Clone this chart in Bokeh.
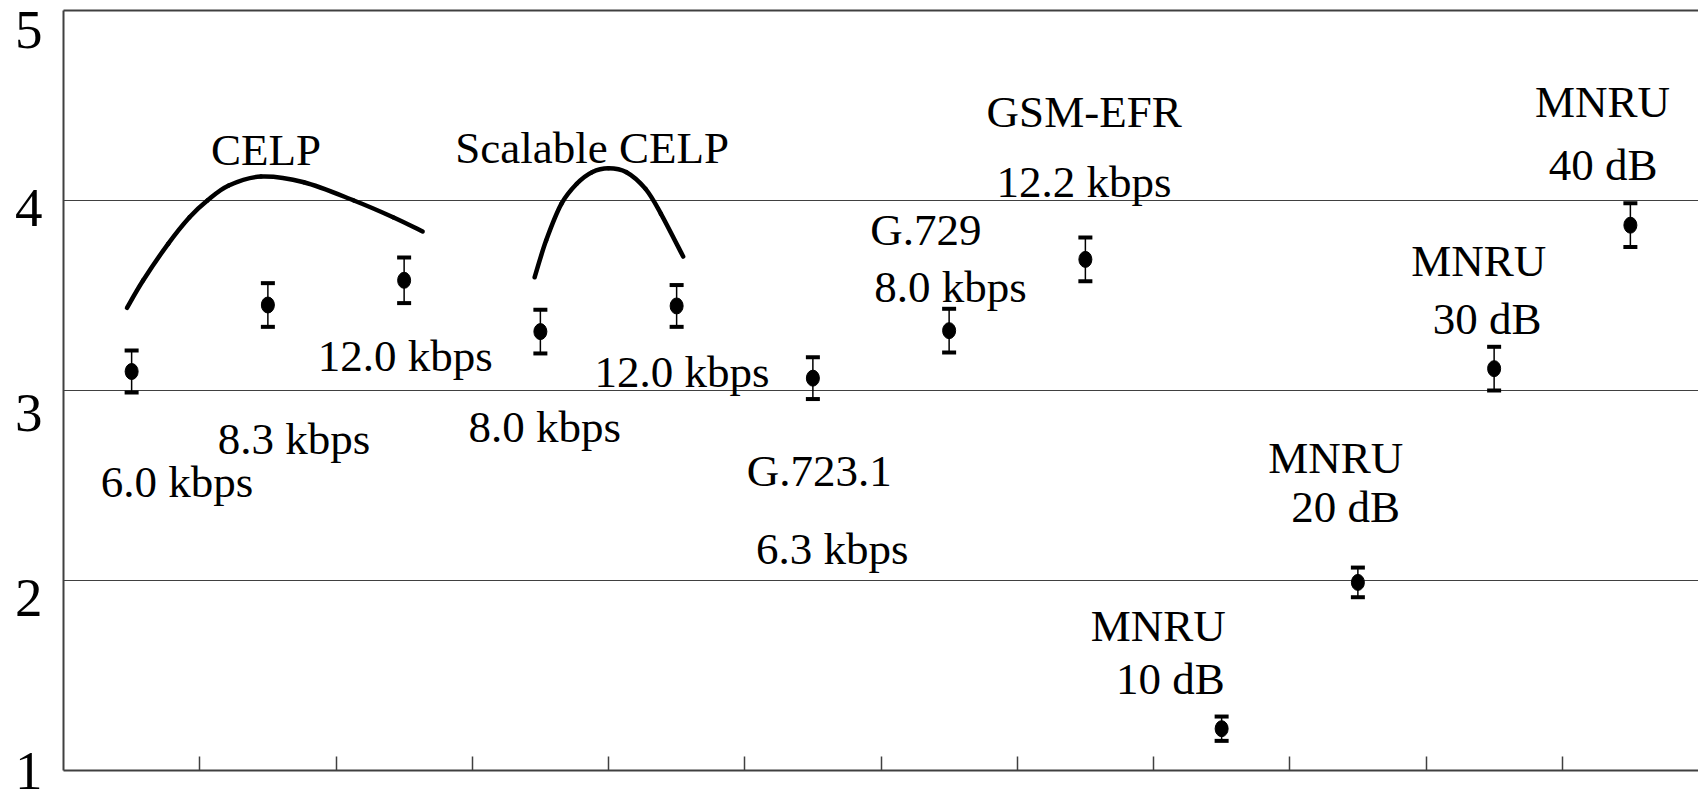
from bokeh.plotting import figure
from bokeh.models import ColumnDataSource, Whisker, TeeHead, FixedTicker, LinearAxis, Range1d
from bokeh.embed import file_html
from bokeh.resources import INLINE
from bokeh.core.properties import value

# ---- data ----
codecs = ["CELP 6.0 kbps", "CELP 8.3 kbps", "CELP 12.0 kbps",
          "Scalable CELP 8.0 kbps", "Scalable CELP 12.0 kbps",
          "G.723.1 6.3 kbps", "G.729 8.0 kbps", "GSM-EFR 12.2 kbps",
          "MNRU 10 dB", "MNRU 20 dB", "MNRU 30 dB", "MNRU 40 dB"]
mos = [3.10, 3.45, 3.58, 3.31, 3.445, 3.065, 3.315, 3.69, 1.22, 1.99, 3.115, 3.87]
ci95 = [0.11, 0.115, 0.12, 0.115, 0.11, 0.11, 0.115, 0.115, 0.064, 0.078, 0.115, 0.115]

label_texts = ["CELP", "Scalable CELP", "GSM-EFR", "12.2 kbps", "G.729", "8.0 kbps",
               "12.0 kbps", "12.0 kbps", "8.3 kbps", "6.0 kbps", "8.0 kbps",
               "G.723.1", "6.3 kbps", "MNRU", "10 dB", "MNRU", "20 dB",
               "MNRU", "30 dB", "MNRU", "40 dB"]
label_x = [1.487, 3.880, 7.491, 7.49, 6.329, 6.511,
           2.508, 4.539, 1.692, 0.833, 3.532,
           5.547, 5.642, 8.035, 8.123, 9.338, 9.411,
           10.387, 10.449, 11.296, 11.30]
label_y = [4.268, 4.274, 4.466, 4.10, 3.845, 3.544,
           3.183, 3.096, 2.746, 2.517, 2.807,
           2.576, 2.164, 1.759, 1.479, 2.645, 2.389,
           3.679, 3.377, 4.517, 4.188]

celp_curve_x = [0.466, 0.584, 0.768, 0.925, 1.056, 1.213, 1.449, 1.764, 2.131, 2.419, 2.636]
celp_curve_y = [3.435, 3.579, 3.772, 3.912, 4.000, 4.079, 4.126, 4.096, 4.000, 3.912, 3.837]
scal_curve_x = [3.458, 3.542, 3.654, 3.767, 3.879, 4.000, 4.132, 4.272, 4.385, 4.548]
scal_curve_y = [3.596, 3.789, 3.982, 4.088, 4.149, 4.170, 4.149, 4.061, 3.930, 3.705]

y_ticks = [1, 2, 3, 4, 5]
y_tick_labels = ["1", "2", "3", "4", "5"]
grid_ticks = [2, 3, 4]
x_boundaries = list(range(1, len(codecs)))

# style: how far (px) each y tick label sits below its gridline in the reference
y_label_drop_px = [0, 18, 22, 8, 19]

FONT = "Liberation Serif"
AX = "#404040"
W, H = 1698, 790
BORDER_TOP, BORDER_BOTTOM = 10, 20
Y0, Y1 = 1, 5
px_per_unit = (H - BORDER_TOP - BORDER_BOTTOM) / (Y1 - Y0)

xs = [i + 0.5 for i in range(len(codecs))]
src = ColumnDataSource(dict(
    x=xs, mos=mos,
    upper=[m + c for m, c in zip(mos, ci95)],
    lower=[m - c for m, c in zip(mos, ci95)],
    name=codecs))

p = figure(width=W, height=H, x_range=Range1d(0, len(codecs)), y_range=Range1d(Y0, Y1),
           output_backend="svg", toolbar_location=None,
           min_border_left=63, min_border_right=0,
           min_border_top=BORDER_TOP, min_border_bottom=BORDER_BOTTOM)
p.outline_line_color = None
p.background_fill_color = "white"
p.border_fill_color = "white"

# y axis: label positions nudged like the reference; tick marks hidden (they sit on gridlines)
def _key(v):
    v = round(v, 4)
    return int(v) if float(v).is_integer() else v

label_pos = [_key(t - d / px_per_unit) for t, d in zip(y_ticks, y_label_drop_px)]
ya = p.yaxis[0]
ya.ticker = FixedTicker(ticks=label_pos)
ya.major_label_overrides = {k: s for k, s in zip(label_pos, y_tick_labels)}
ya.major_label_text_font = FONT
ya.major_label_text_font_size = "55px"
ya.major_label_text_color = "black"
ya.major_label_standoff = 21
ya.major_tick_in = 0
ya.major_tick_out = 0
ya.major_tick_line_color = None
ya.minor_tick_in = 0
ya.minor_tick_out = 0
ya.minor_tick_line_color = None
ya.axis_line_width = 2
ya.axis_line_color = AX

# x axis: unlabeled ticks at category boundaries
xa = p.xaxis[0]
xa.ticker = FixedTicker(ticks=x_boundaries)
xa.major_label_text_font_size = "0px"
xa.major_label_standoff = 0
xa.major_tick_in = 14
xa.major_tick_out = 0
xa.minor_tick_in = 0
xa.minor_tick_out = 0
xa.axis_line_width = 2
xa.axis_line_color = AX
xa.major_tick_line_color = AX
xa.major_tick_line_width = 1.5

top = LinearAxis(ticker=FixedTicker(ticks=[]), major_label_text_font_size="0px",
                 major_tick_in=0, major_tick_out=0, minor_tick_in=0, minor_tick_out=0,
                 axis_line_width=2, axis_line_color=AX)
p.add_layout(top, "above")

p.xgrid.visible = False
p.ygrid.ticker = FixedTicker(ticks=grid_ticks)
p.ygrid.grid_line_color = AX
p.ygrid.grid_line_width = 1

# smooth bracket curves through the read points (Catmull-Rom -> cubic Bezier segments)
def smooth(px, py):
    n = len(px)
    x0, y0, x1, y1, cx0, cy0, cx1, cy1 = [], [], [], [], [], [], [], []
    for i in range(n - 1):
        a = max(i - 1, 0)
        b = min(i + 2, n - 1)
        x0.append(px[i]); y0.append(py[i]); x1.append(px[i + 1]); y1.append(py[i + 1])
        cx0.append(px[i] + (px[i + 1] - px[a]) / 6.0)
        cy0.append(py[i] + (py[i + 1] - py[a]) / 6.0)
        cx1.append(px[i + 1] - (px[b] - px[i]) / 6.0)
        cy1.append(py[i + 1] - (py[b] - py[i]) / 6.0)
    return dict(x0=x0, y0=y0, x1=x1, y1=y1, cx0=cx0, cy0=cy0, cx1=cx1, cy1=cy1)

for cx, cy in ((celp_curve_x, celp_curve_y), (scal_curve_x, scal_curve_y)):
    p.bezier(source=ColumnDataSource(smooth(cx, cy)), x0="x0", y0="y0", x1="x1", y1="y1",
             cx0="cx0", cy0="cy0", cx1="cx1", cy1="cy1",
             line_width=4.5, line_color="black", line_cap="round")

# error bars
w = Whisker(base="x", upper="upper", lower="lower", source=src, line_width=1.5, line_color="black",
            upper_head=TeeHead(size=14, line_width=4, line_color="black"),
            lower_head=TeeHead(size=14, line_width=4, line_color="black"))
p.add_layout(w)

p.ellipse(x="x", y="mos", width=13, height=16, width_units="screen", height_units="screen",
          fill_color="black", line_color="black", source=src)

p.text(x=label_x, y=label_y, text=label_texts, text_font=value(FONT), text_font_size="45px",
       text_align="center", text_baseline="middle", text_color="black")

open("out.html", "w").write(file_html(p, INLINE))
